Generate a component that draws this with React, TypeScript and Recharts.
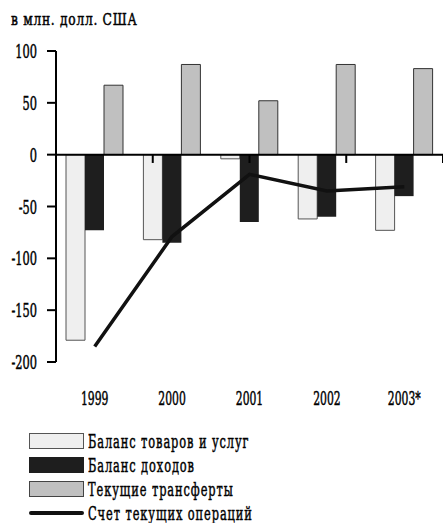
import React from 'react';
import { ComposedChart, Bar, Line, XAxis, YAxis, ReferenceLine } from 'recharts';

const years = ['1999', '2000', '2001', '2002', '2003*'];
const goodsServices = [-179, -82, -4, -62, -73];
const income = [-73, -85, -65, -60, -40];
const transfers = [67, 87, 52, 87, 83];
const currentAccount = [-185, -79, -19, -35, -31];
const yTicks = [-200, -150, -100, -50, 0, 50, 100];
const boundaryTicks = [1, 2, 3, 4];
const seriesNames = ['Баланс товаров и услуг', 'Баланс доходов', 'Текущие трансферты', 'Счет текущих операций'];
const title = 'в млн. долл. США';

const data = years.map((y, i) => ({
  year: y,
  goods: goodsServices[i],
  income: income[i],
  transfers: transfers[i],
  account: currentAccount[i],
}));

const FONT = "'DejaVu Serif', 'Liberation Serif', serif";
const SX = 0.6;

const YTick = (props: any) => {
  const { x, y, payload } = props;
  return (
    <g transform={`translate(${x - 10},${y + 7})`}>
      <text transform={`scale(${SX},1)`} textAnchor="end" fontFamily={FONT} fontSize={19} fill="#000" stroke="#000" strokeWidth={0.5}>
        {payload.value}
      </text>
    </g>
  );
};

const XTick = (props: any) => {
  const { x, y, payload } = props;
  return (
    <g transform={`translate(${x},${y + 43})`}>
      <text transform={`scale(${SX},1)`} textAnchor="middle" fontFamily={FONT} fontSize={18} fill="#000" stroke="#000" strokeWidth={0.5}>
        {payload.value}
      </text>
    </g>
  );
};

const legendStyles = [
  { background: '#efefef', border: '1px solid #555' },
  { background: '#1e1e1e', border: '1px solid #1e1e1e' },
  { background: '#c0c0c0', border: '1px solid #444' },
];

const textStroke: any = { WebkitTextStroke: '0.5px #000' };

export default function App() {
  return (
    <div style={{ position: 'absolute', left: 0, top: 0, width: 443, height: 523, background: '#fff', overflow: 'hidden' }}>
      <div style={{ position: 'absolute', left: 11, top: 9, fontFamily: FONT, fontSize: 17, letterSpacing: 1, transform: `scaleX(0.72)`, transformOrigin: 'left top', whiteSpace: 'nowrap', ...textStroke }}>
        {title}
      </div>
      <ComposedChart width={443} height={420} data={data} margin={{ top: 51, right: 0, bottom: 0, left: 0 }} barCategoryGap={10} barGap={0}>
        <XAxis dataKey="year" axisLine={false} tickLine={false} tickSize={0} tickMargin={0} height={58} tick={<XTick />} interval={0} />
        <XAxis xAxisId="grid" type="number" domain={[0, 5]} hide />
        <YAxis domain={[-200, 100]} ticks={yTicks} width={56} axisLine={{ stroke: '#000', strokeWidth: 2 }} tickLine={{ stroke: '#000', strokeWidth: 2 }} tickSize={9} tickMargin={0} tick={<YTick />} interval={0} allowDataOverflow />
        <Bar dataKey="goods" fill="#efefef" stroke="#555" strokeWidth={1} isAnimationActive={false} />
        <Bar dataKey="income" fill="#1e1e1e" isAnimationActive={false} />
        <Bar dataKey="transfers" fill="#c0c0c0" stroke="#333" strokeWidth={1} isAnimationActive={false} />
        <ReferenceLine y={0} stroke="#000" strokeWidth={2} />
        {boundaryTicks.map((b) => (
          <ReferenceLine key={b} xAxisId="grid" segment={[{ x: b, y: 0 }, { x: b, y: -8 }]} stroke="#000" strokeWidth={2} />
        ))}
        <Line dataKey="account" stroke="#111" strokeWidth={3.5} dot={false} isAnimationActive={false} />
      </ComposedChart>
      <div style={{ position: 'absolute', left: 29, top: 429 }}>
        {seriesNames.map((name, i) => (
          <div key={name} style={{ height: 24, display: 'flex', alignItems: 'center' }}>
            {i < 3 ? (
              <div style={{ width: 53, height: 14, boxSizing: 'content-box', ...legendStyles[i] }} />
            ) : (
              <div style={{ width: 55, height: 4, background: '#111', borderRadius: 2 }} />
            )}
            <div style={{ marginLeft: 4, fontFamily: FONT, fontSize: 19, letterSpacing: 1.5, transform: `scaleX(0.6)`, transformOrigin: 'left center', whiteSpace: 'nowrap', lineHeight: '24px', ...textStroke }}>
              {name}
            </div>
          </div>
        ))}
      </div>
    </div>
  );
}
